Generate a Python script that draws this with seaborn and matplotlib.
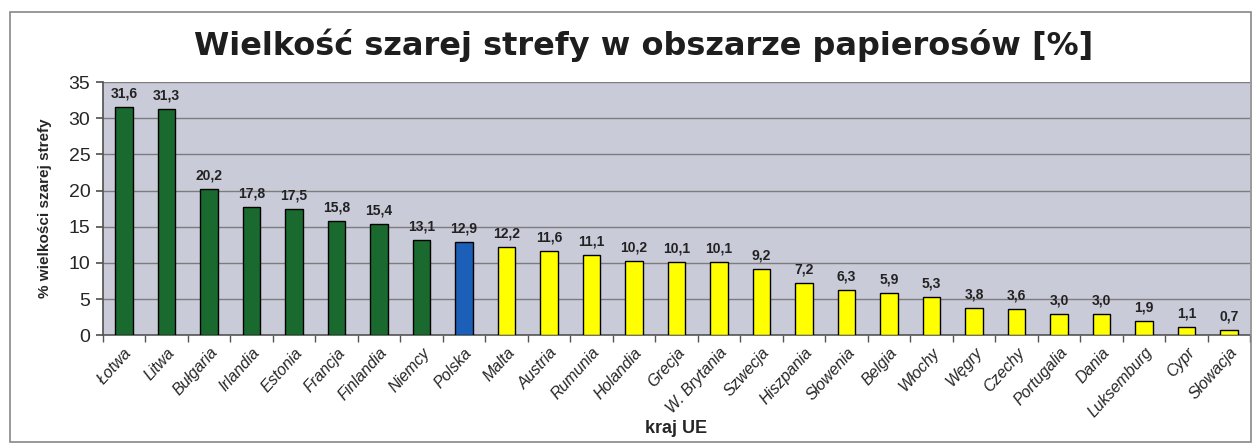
import matplotlib
matplotlib.use('Agg')
import matplotlib.pyplot as plt
import seaborn as sns
from matplotlib.patches import Rectangle

# dane
kraje = ['Łotwa', 'Litwa', 'Bułgaria', 'Irlandia', 'Estonia', 'Francja', 'Finlandia',
         'Niemcy', 'Polska', 'Malta', 'Austria', 'Rumunia', 'Holandia', 'Grecja',
         'W. Brytania', 'Szwecja', 'Hiszpania', 'Słowenia', 'Belgia', 'Włochy',
         'Węgry', 'Czechy', 'Portugalia', 'Dania', 'Luksemburg', 'Cypr', 'Słowacja']
wartosci = [31.6, 31.3, 20.2, 17.8, 17.5, 15.8, 15.4, 13.1, 12.9, 12.2, 11.6, 11.1,
            10.2, 10.1, 10.1, 9.2, 7.2, 6.3, 5.9, 5.3, 3.8, 3.6, 3.0, 3.0, 1.9, 1.1, 0.7]
grupy = ['wysoka'] * 8 + ['Polska'] + ['niska'] * 18
kolory = {'wysoka': '#1a6a30', 'Polska': '#1c5fb8', 'niska': '#ffff00'}

sns.set_theme(style='white')
plt.rcParams['font.family'] = ['Liberation Sans', 'DejaVu Sans']

fig = plt.figure(figsize=(12.54, 4.44), dpi=100)
ax = fig.add_axes([0.082, 0.245, 0.915, 0.57])
ax.set_facecolor('#cacbd9')

sns.barplot(x=kraje, y=wartosci, hue=grupy, palette=kolory, dodge=False, saturation=1,
            width=0.42, edgecolor='black', linewidth=1.0, legend=False, ax=ax, zorder=3)

ax.set_ylim(0, 35)
ax.set_xlim(-0.5, len(kraje) - 0.5)
ax.set_yticks(range(0, 36, 5))
ax.yaxis.grid(True, color='#7c7c7c', linewidth=1.0, zorder=0)
ax.set_axisbelow(True)
for s in ['top', 'right']:
    ax.spines[s].set_visible(False)
ax.spines['left'].set_color('#555555')
ax.spines['bottom'].set_color('#555555')
ax.spines['bottom'].set_linewidth(1.2)

# etykiety wartości
for i, v in enumerate(wartosci):
    ax.text(i, v + 0.9, f'{v:.1f}'.replace('.', ','), ha='center', va='bottom',
            fontsize=10, fontweight='bold', color='#222222')

ax.tick_params(axis='y', labelsize=14, length=5, left=True, color='#555555', pad=4)
ax.set_xticks(range(len(kraje)))
ax.set_xticklabels(kraje, rotation=48, ha='right', rotation_mode='anchor',
                   fontsize=11.5, fontstyle='italic')
ax.tick_params(axis='x', length=0, pad=7)
ax.set_xticks([i + 0.5 for i in range(-1, len(kraje))], minor=True)
ax.tick_params(axis='x', which='minor', length=5, bottom=True, color='#555555')

ax.set_ylabel('% wielkości szarej strefy', fontsize=11, fontweight='bold', labelpad=12)
ax.set_xlabel('kraj UE', fontsize=13, fontweight='bold', labelpad=0)

fig.text(0.513, 0.897, 'Wielkość szarej strefy w obszarze papierosów [%]',
         ha='center', va='center', fontsize=23, fontweight='bold', color='#1e1e1e',
         family='DejaVu Sans')

# ramka wykresu
fig.patches.append(Rectangle((0.008, 0.005), 0.99, 0.968, transform=fig.transFigure,
                             fill=False, edgecolor='#888888', linewidth=1.2))

fig.savefig('out.png', dpi=100)
